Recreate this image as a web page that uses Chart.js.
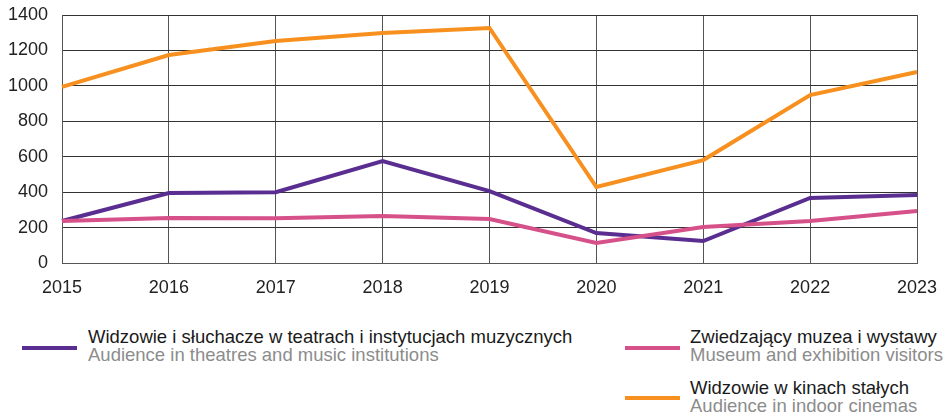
<!DOCTYPE html>
<html lang="pl">
<head>
<meta charset="UTF-8">
<script src="https://cdn.jsdelivr.net/npm/chart.js"></script>
<style>
  body { margin: 0; background: #fff; width: 944px; height: 416px; position: relative; overflow: hidden; font-family: "Liberation Sans", Arial, sans-serif; }
  .wykres { position: absolute; left: 0; top: 0; width: 944px; height: 305px; }
  .leg { position: absolute; font-family: "Liberation Sans", Arial, sans-serif; font-size: 18.5px; line-height: 18px; white-space: nowrap; }
  .leg .kreska { position: absolute; width: 55px; height: 4px; }
  .leg .pl { color: #1a1a1a; }
  .leg .en { color: #8c8c8c; }
</style>
<title>Wykres</title>
</head>
<body>

<div class="wykres"><canvas id="myChart"></canvas></div>

<div class="leg" style="left:88px; top:328px;">
  <div class="kreska" style="left:-66px; top:18px; background:#5a2d91;"></div>
  <div class="pl">Widzowie i słuchacze w teatrach i instytucjach muzycznych</div>
  <div class="en">Audience in theatres and music institutions</div>
</div>
<div class="leg" style="left:690px; top:328px;">
  <div class="kreska" style="left:-65px; top:18px; background:#d6508a;"></div>
  <div class="pl">Zwiedzający muzea i wystawy</div>
  <div class="en">Museum and exhibition visitors</div>
</div>
<div class="leg" style="left:690px; top:379px;">
  <div class="kreska" style="left:-65px; top:17px; background:#f7901e;"></div>
  <div class="pl">Widzowie w kinach stałych</div>
  <div class="en">Audience in indoor cinemas</div>
</div>

<script>
    // dane (tys.)
    const lata = ['2015', '2016', '2017', '2018', '2019', '2020', '2021', '2022', '2023'];
    const teatry = [237, 395, 400, 576, 406, 169, 124, 367, 384];
    const muzea = [237, 254, 252, 265, 248, 113, 203, 237, 294];
    const kina = [994, 1174, 1253, 1298, 1327, 429, 581, 948, 1078];
    const osY = [0, 200, 400, 600, 800, 1000, 1200, 1400];

    const ctx = document.getElementById('myChart').getContext('2d');
    const myChart = new Chart(ctx, {
        type: 'line',
        data: {
            labels: lata,
            datasets: [
                { label: 'Muzea', data: muzea, borderColor: '#d6508a', borderWidth: 4, pointRadius: 0, tension: 0 },
                { label: 'Teatry', data: teatry, borderColor: '#5a2d91', borderWidth: 4, pointRadius: 0, tension: 0 },
                { label: 'Kina', data: kina, borderColor: '#f7901e', borderWidth: 4, pointRadius: 0, tension: 0 }
            ]
        },
        options: {
            responsive: true,
            maintainAspectRatio: false,
            animation: false,
            layout: { padding: { left: 0, right: 27, top: 15, bottom: 0 } },
            plugins: { legend: { display: false }, tooltip: { enabled: false } },
            scales: {
                x: {
                    grid: { color: '#555', lineWidth: 1, drawTicks: false },
                    border: { color: '#555' },
                    ticks: { color: '#222', font: { family: 'Liberation Sans', size: 18 }, padding: 14, maxRotation: 0 },
                    afterFit: function (s) { s.height = 42; s.paddingRight = 0; s.paddingLeft = 0; }
                },
                y: {
                    min: 0,
                    max: 1400,
                    grid: { color: '#333', lineWidth: 1, drawTicks: false },
                    border: { color: '#555' },
                    afterBuildTicks: function (s) { s.ticks = osY.map(v => ({ value: v })); },
                    ticks: {
                        color: '#222', font: { family: 'Liberation Sans', size: 18 }, padding: 14,
                        callback: function (v) { return String(v); }
                    },
                    afterFit: function (s) { s.width = 62; s.paddingTop = 0; s.paddingBottom = 0; }
                }
            }
        }
    });
</script>
</body>
</html>
